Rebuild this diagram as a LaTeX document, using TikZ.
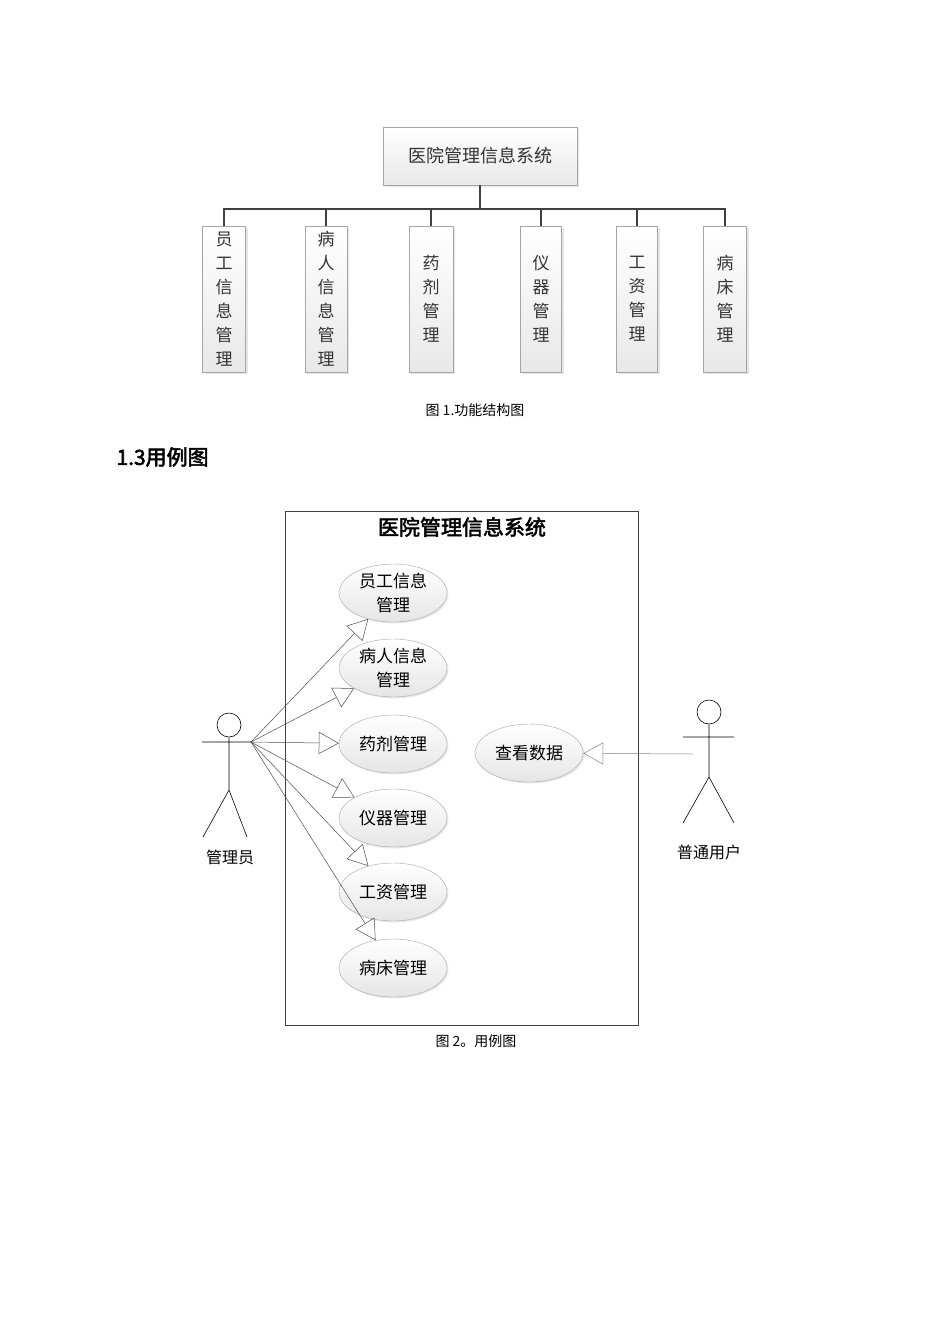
\documentclass[tikz,border=0pt]{standalone}
\usepackage{fontspec}
\usetikzlibrary{shadows,arrows.meta}
\newfontfamily\cjk{Noto Sans CJK SC}
\newfontfamily\cjkb[FakeBold=2.5]{Noto Sans CJK SC}
\setmainfont{Liberation Serif}
\tikzset{
  fbox/.style={draw=gray!70,top color=white,bottom color=gray!18,drop shadow={shadow xshift=2pt,shadow yshift=-2pt,fill=gray!40},font=\cjk\fontsize{17}{24}\selectfont,text=black!80,align=center,inner sep=0pt},
  uc/.style={ellipse,draw=gray!70,top color=white,bottom color=gray!20,minimum width=108pt,minimum height=58pt,inner sep=0pt,align=center,font=\cjk\fontsize{17}{24}\selectfont,drop shadow={shadow xshift=1.5pt,shadow yshift=-1.5pt,fill=gray!35}},
  bus/.style={draw=black!75,line width=1.3pt},
  assoc/.style={draw=black!70,line width=0.5pt,-{Triangle[open,length=20pt,width=22pt]}},
  actor/.style={draw=black,line width=0.6pt}
}
\usetikzlibrary{shapes.geometric}
\begin{document}
\begin{tikzpicture}[x=1pt,y=-1pt]
\useasboundingbox (0,0) rectangle (950,1344);
% top diagram
\node[fbox,minimum width=194pt,minimum height=58pt,font=\cjk\fontsize{18}{24}\selectfont] (root) at (480,156) {医院管理信息系统};
\node[fbox,minimum width=43pt,minimum height=146pt] (c1) at (224,299) {员\\工\\信\\息\\管\\理};
\node[fbox,minimum width=42pt,minimum height=146pt] (c2) at (326,299) {病\\人\\信\\息\\管\\理};
\node[fbox,minimum width=44pt,minimum height=146pt] (c3) at (431,299) {药\\剂\\管\\理};
\node[fbox,minimum width=41pt,minimum height=146pt] (c4) at (541,299) {仪\\器\\管\\理};
\node[fbox,minimum width=41pt,minimum height=146pt] (c5) at (637,299) {工\\资\\管\\理};
\node[fbox,minimum width=43pt,minimum height=146pt] (c6) at (725,299) {病\\床\\管\\理};
\coordinate (bj) at (480,209);
\draw[bus] (root.south) -- (bj);
\draw[bus] (c1.north) |- (bj) -| (c6.north);
\foreach \c in {c2,c3,c4,c5} \draw[bus] (\c.north) -- (\c.north |- bj);
\node[font=\cjk\fontsize{14}{16}\selectfont] (cap1) at (475,410) {图 1.功能结构图};
\node[font=\cjkb\fontsize{21}{24}\selectfont,anchor=west] (h) at (113,457) {1.3用例图};
% use case diagram
\node[draw=black!75,line width=1pt,minimum width=353pt,minimum height=514pt,inner sep=0pt] (sys) at (461.5,768) {};
\node[font=\cjkb\fontsize{21}{24}\selectfont] (title) at (462,527) {医院管理信息系统};
\node[uc] (u1) at (393,593) {员工信息\\管理};
\node[uc] (u2) at (393,668) {病人信息\\管理};
\node[uc] (u3) at (393,744) {药剂管理};
\node[uc] (u4) at (393,818) {仪器管理};
\node[uc] (u5) at (393,892) {工资管理};
\node[uc] (u6) at (393,968) {病床管理};
\node[uc] (u7) at (529,753) {查看数据};
% admin actor
\node[circle,actor,minimum size=24pt,inner sep=0pt] (ah) at (229,725) {};
\coordinate (ab) at (229,790);
\coordinate (al) at (202,742);
\coordinate (ar) at (251,742);
\draw[actor] (ah.south) -- (ab) (al) -- (ar) (ab) -- (203,837) (ab) -- (247,837);
\node[font=\cjk\fontsize{16}{18}\selectfont] (an) at (230,857) {管理员};
\foreach \u in {u1,u2,u3,u4,u5,u6} \draw[assoc] (ar) -- (\u);
% user actor
\node[circle,actor,minimum size=24pt,inner sep=0pt] (bh) at (709,712) {};
\coordinate (bb) at (709,777);
\draw[actor] (bh.south) -- (bb) (683,737) -- (734,737) (bb) -- (683,823) (bb) -- (734,823);
\coordinate (bp) at (693,754);
\node[font=\cjk\fontsize{16}{18}\selectfont] (bn) at (709,852) {普通用户};
\draw[assoc,draw=black!50] (bp) -- (u7);
\node[font=\cjk\fontsize{14}{16}\selectfont] (cap2) at (476,1041) {图 2。用例图};
\end{tikzpicture}
\end{document}
